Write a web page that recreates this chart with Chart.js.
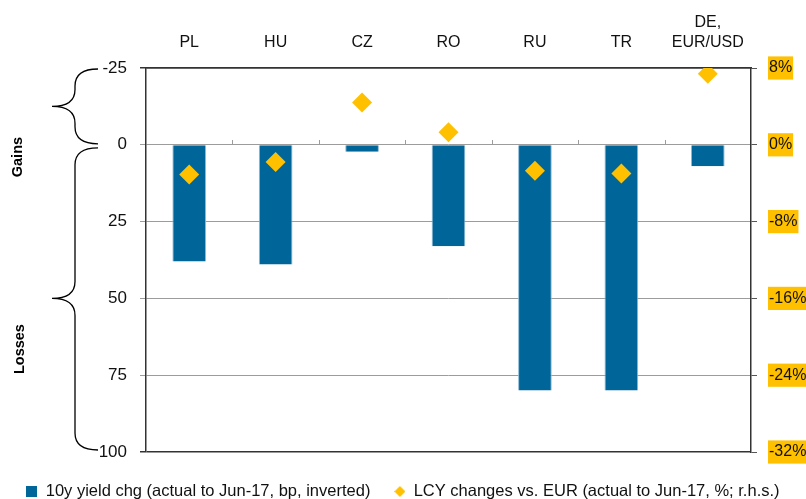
<!DOCTYPE html>
<html><head><meta charset="utf-8">
<script src="https://cdn.jsdelivr.net/npm/chart.js@4.4.1/dist/chart.umd.min.js"></script>
<style>html,body{margin:0;padding:0;background:#fff;}#wrap{width:806px;height:499px;position:relative;}</style>
</head><body><div id="wrap"><canvas id="c" width="806" height="499"></canvas></div>
<script>
// ---- data ----
const categories = ['PL', 'HU', 'CZ', 'RO', 'RU', 'TR', ['DE,', 'EUR/USD']];
const yieldChg = [38, 39, 2.3, 33, 80, 80, 7];          // bp, inverted axis
const fxChg = [-3.1, -1.8, 4.4, 1.3, -2.7, -3.0, 7.4];  // %, r.h.s.
const leftTicks = [-25, 0, 25, 50, 75, 100];
const rightTicks = [8, 0, -8, -16, -24, -32];
const seriesNames = ['10y yield chg (actual to Jun-17, bp, inverted)', 'LCY changes vs. EUR (actual to Jun-17, %; r.h.s.)'];
const sideLabels = ['Gains', 'Losses'];

const FONT = "'Liberation Sans', Arial, sans-serif";
const DARK = '#333333';
const GRID = '#9c9c9c';
const BLUE = '#006699';
const AMBER = '#FFC000';

function legendIcon(kind, color) {
  const c = document.createElement('canvas');
  c.width = 11; c.height = 11;
  const g = c.getContext('2d');
  g.fillStyle = color;
  if (kind === 'rect') { g.fillRect(0, 0, 11, 11); }
  else { g.beginPath(); g.moveTo(5.5, 0); g.lineTo(11, 5.5); g.lineTo(5.5, 11); g.lineTo(0, 5.5); g.closePath(); g.fill(); }
  return c;
}
const icons = [legendIcon('rect', BLUE), legendIcon('diamond', AMBER)];

const annot = {
  id: 'annot',
  afterDraw(chart) {
    const {ctx, chartArea, scales: {x, y}} = chart;
    ctx.save();
    const y0 = Math.round(y.getPixelForValue(0));
    ctx.strokeStyle = GRID; ctx.lineWidth = 1;
    for (let i = 1; i < categories.length; i++) {
      const bx = Math.round((x.getPixelForValue(i - 1) + x.getPixelForValue(i)) / 2) + 0.5;
      ctx.beginPath(); ctx.moveTo(bx, y0 - 5); ctx.lineTo(bx, y0); ctx.stroke();
    }
    const L = chartArea.left;
    const xEnd = L - 48, xMid = L - 71, xTip = L - 94;
    function brace(y1, y2, ym, r) {
      ctx.beginPath();
      ctx.moveTo(xEnd, y1);
      ctx.quadraticCurveTo(xMid, y1, xMid, y1 + r);
      ctx.lineTo(xMid, ym - r);
      ctx.quadraticCurveTo(xMid, ym, xTip, ym);
      ctx.quadraticCurveTo(xMid, ym, xMid, ym + r);
      ctx.lineTo(xMid, y2 - r);
      ctx.quadraticCurveTo(xMid, y2, xEnd, y2);
      ctx.stroke();
    }
    ctx.strokeStyle = '#000'; ctx.lineWidth = 1.3;
    const yt = y.getPixelForValue(leftTicks[0]);
    const yz = y.getPixelForValue(0);
    const yb = y.getPixelForValue(leftTicks[leftTicks.length - 1]);
    brace(yt + 1, yz - 1, (yt + yz) / 2, 17);
    brace(yz + 3, yb - 2, y.getPixelForValue(50), 17);
    ctx.fillStyle = '#000';
    ctx.font = "bold 14.5px " + FONT;
    ctx.textAlign = 'center'; ctx.textBaseline = 'middle';
    const pos = [[17.5, y.getPixelForValue(4)], [20, y.getPixelForValue(66.5)]];
    sideLabels.forEach((t, i) => {
      ctx.save(); ctx.translate(pos[i][0], pos[i][1]); ctx.rotate(-Math.PI / 2);
      ctx.fillText(t, 0, 0); ctx.restore();
    });
    ctx.restore();
  }
};

new Chart(document.getElementById('c'), {
  type: 'bar',
  data: {
    labels: categories,
    datasets: [
      {
        label: seriesNames[0],
        data: yieldChg,
        backgroundColor: BLUE,
        borderColor: '#8dbad6',
        borderWidth: {left: 1, right: 1, top: 0, bottom: 0},
        borderSkipped: false,
        yAxisID: 'y',
        barPercentage: 0.39,
        categoryPercentage: 1,
        order: 2
      },
      {
        type: 'line',
        label: seriesNames[1],
        data: fxChg,
        showLine: false,
        pointStyle: 'rectRot',
        pointRadius: 10,
        pointHoverRadius: 10,
        backgroundColor: AMBER,
        borderColor: AMBER,
        borderWidth: 0,
        pointBorderWidth: 0,
        yAxisID: 'y1',
        order: 1
      }
    ]
  },
  options: {
    responsive: false,
    animation: false,
    devicePixelRatio: 1,
    layout: {padding: {left: 0, right: 0, top: 0, bottom: -10.7}},
    plugins: {
      tooltip: {enabled: false},
      legend: {
        position: 'bottom',
        title: {display: true, text: '', font: {size: 1}, padding: {top: 6, bottom: 0}},
        labels: {
          usePointStyle: true,
          boxWidth: 11, boxHeight: 11,
          padding: 24,
          color: '#111',
          font: {family: FONT, size: 16.5},
          sort: (a, b) => a.datasetIndex - b.datasetIndex,
          generateLabels: chart => {
            const items = Chart.defaults.plugins.legend.labels.generateLabels(chart);
            items.forEach(it => { it.pointStyle = icons[it.datasetIndex]; });
            return items;
          }
        }
      }
    },
    scales: {
      x: {
        position: 'top',
        offset: true,
        grid: {display: false, drawTicks: false},
        border: {display: true, color: DARK, width: 1.5},
        ticks: {color: '#111', font: {family: FONT, size: 16, lineHeight: 1.3}, padding: 14.6, maxRotation: 0, autoSkip: false},
        afterFit: s => { s.height = 68; }
      },
      y: {
        position: 'left',
        reverse: true,
        min: -25, max: 100,
        afterBuildTicks: s => { s.ticks = leftTicks.map(v => ({value: v})); },
        grid: {
          color: c => (c.tick && (c.tick.value === -25 || c.tick.value === 100)) ? DARK : GRID,
          lineWidth: c => (c.tick && (c.tick.value === -25 || c.tick.value === 100)) ? 1.5 : 1,
          tickLength: 6
        },
        border: {display: true, color: DARK, width: 1.5},
        ticks: {color: '#111', font: {family: FONT, size: 17}, padding: 13},
        afterFit: s => { s.width = 146; }
      },
      y1: {
        position: 'right',
        min: -32, max: 8,
        afterBuildTicks: s => { s.ticks = rightTicks.map(v => ({value: v})); },
        grid: {drawOnChartArea: false, color: '#555', tickLength: 6},
        border: {display: true, color: DARK, width: 1.5},
        ticks: {
          color: '#111', font: {family: FONT, size: 16}, padding: 12,
          callback: v => v + '%',
          showLabelBackdrop: true,
          backdropColor: AMBER,
          backdropPadding: {top: 2, bottom: 2, left: 1, right: 1}
        },
        afterFit: s => { s.width = 55; }
      }
    }
  },
  plugins: [annot]
});
</script></body></html>
